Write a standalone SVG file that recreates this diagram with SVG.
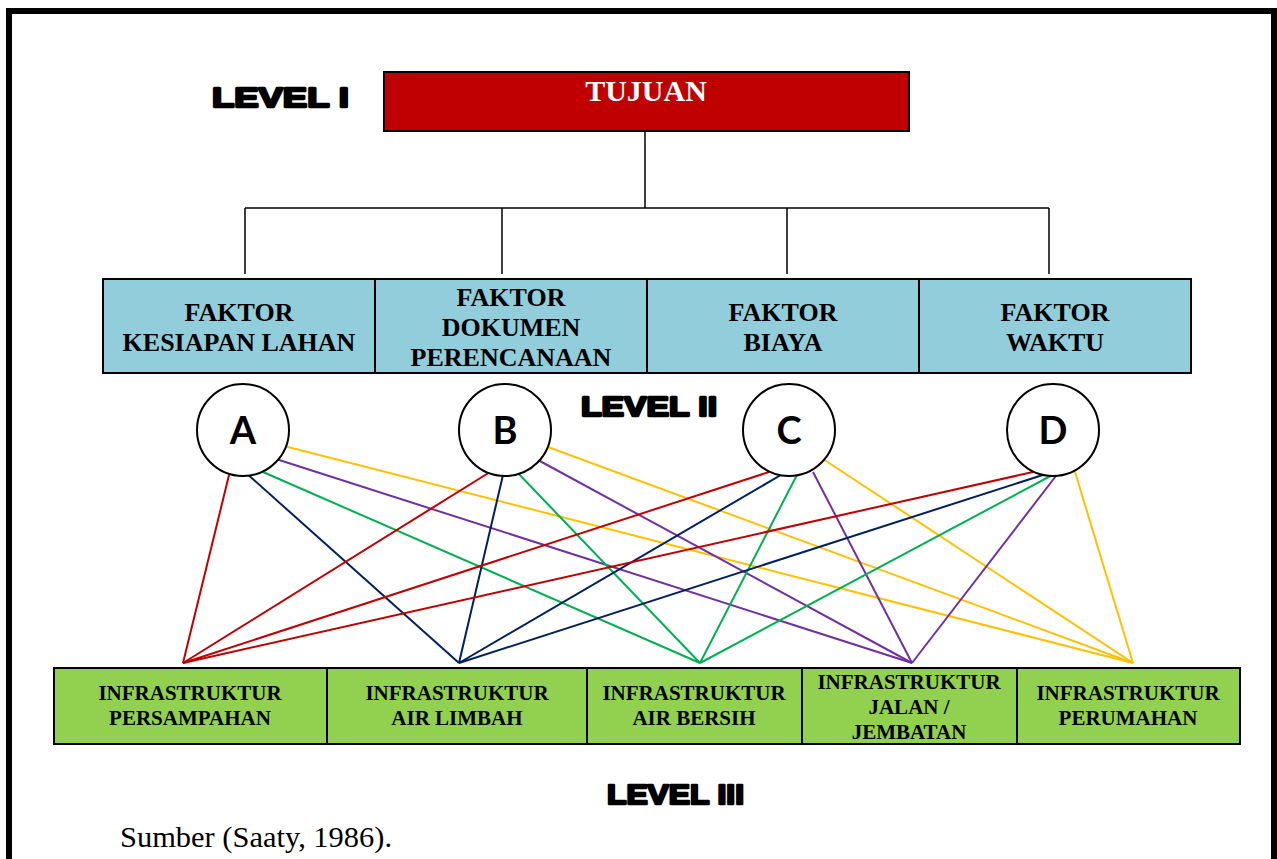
<svg xmlns="http://www.w3.org/2000/svg" width="1277" height="859" viewBox="0 0 1277 859">
<style>
.frame{fill:none;stroke:#000;stroke-width:6}
.box{stroke:#000;stroke-width:2}
.tree{fill:none;stroke:#000;stroke-width:1.5}
.circ{fill:#fff;stroke:#000;stroke-width:2}
.ft{font-family:"Liberation Serif","Times New Roman",serif;font-weight:bold;font-size:26px;fill:#000;text-anchor:middle}
.it{font-family:"Liberation Serif","Times New Roman",serif;font-weight:bold;font-size:21px;fill:#000;text-anchor:middle}
.lv{font-family:"Liberation Sans",Arial,sans-serif;font-weight:bold;font-size:28px;fill:#000;stroke:#000;stroke-width:2.4;stroke-linejoin:round}
.let{font-family:Lato,"Open Sans",sans-serif;font-weight:bold;font-size:38px;fill:#000;text-anchor:middle}
.c line{stroke-width:2}
.r{stroke:#C00000}.n{stroke:#002060}.g{stroke:#00B050}.p{stroke:#7030A0}.y{stroke:#FFC000}
</style>
<rect x="0" y="0" width="1277" height="859" fill="#fff"/>
<rect class="frame" x="9" y="11" width="1265" height="860"/>

<g id="level1-label"><text class="lv" x="212" y="107" textLength="137" lengthAdjust="spacingAndGlyphs">LEVEL I</text></g>
<g id="tujuan">
<rect class="box" x="384" y="72" width="525" height="59" fill="#C00000"/>
<text x="646" y="101" font-family="Liberation Serif, Times New Roman, serif" font-weight="bold" font-size="30" fill="#fff" text-anchor="middle">TUJUAN</text>
</g>

<g id="tree">
<line class="tree" x1="645" y1="131" x2="645" y2="208"/>
<line class="tree" x1="245" y1="208" x2="1049" y2="208"/>
<line class="tree" x1="245" y1="208" x2="245" y2="274"/>
<line class="tree" x1="502" y1="208" x2="502" y2="274"/>
<line class="tree" x1="787" y1="208" x2="787" y2="274"/>
<line class="tree" x1="1049" y1="208" x2="1049" y2="274"/>
</g>

<g id="faktor-lahan">
<rect class="box" x="103" y="279" width="272" height="94" fill="#92CDDC"/>
<text class="ft" x="239" y="321">FAKTOR</text>
<text class="ft" x="239" y="351">KESIAPAN LAHAN</text>
</g>
<g id="faktor-dokumen">
<rect class="box" x="375" y="279" width="272" height="94" fill="#92CDDC"/>
<text class="ft" x="511" y="306">FAKTOR</text>
<text class="ft" x="511" y="336">DOKUMEN</text>
<text class="ft" x="511" y="366">PERENCANAAN</text>
</g>
<g id="faktor-biaya">
<rect class="box" x="647" y="279" width="272" height="94" fill="#92CDDC"/>
<text class="ft" x="783" y="321">FAKTOR</text>
<text class="ft" x="783" y="351">BIAYA</text>
</g>
<g id="faktor-waktu">
<rect class="box" x="919" y="279" width="272" height="94" fill="#92CDDC"/>
<text class="ft" x="1055" y="321">FAKTOR</text>
<text class="ft" x="1055" y="351">WAKTU</text>
</g>

<g id="level2-label"><text class="lv" x="581" y="416" textLength="136" lengthAdjust="spacingAndGlyphs">LEVEL II</text></g>

<g id="connectors" class="c">
<line class="r" x1="230" y1="471" x2="183" y2="663"/>
<line class="n" x1="245" y1="472" x2="459" y2="663"/>
<line class="g" x1="263" y1="472" x2="700" y2="663"/>
<line class="p" x1="276" y1="459" x2="912" y2="663"/>
<line class="y" x1="284" y1="446" x2="1133" y2="663"/>

<line class="r" x1="490" y1="472" x2="183" y2="663"/>
<line class="n" x1="503" y1="475" x2="459" y2="663"/>
<line class="g" x1="516" y1="471" x2="700" y2="663"/>
<line class="p" x1="538" y1="460" x2="912" y2="663"/>
<line class="y" x1="548" y1="447" x2="1133" y2="663"/>

<line class="r" x1="769" y1="472" x2="183" y2="663"/>
<line class="n" x1="786" y1="472" x2="459" y2="663"/>
<line class="g" x1="799" y1="471" x2="700" y2="663"/>
<line class="p" x1="813" y1="472" x2="912" y2="663"/>
<line class="y" x1="823" y1="459" x2="1133" y2="663"/>

<line class="r" x1="1033" y1="472" x2="183" y2="663"/>
<line class="n" x1="1052" y1="472" x2="459" y2="663"/>
<line class="g" x1="1058" y1="472" x2="700" y2="663"/>
<line class="p" x1="1059" y1="472" x2="912" y2="663"/>
<line class="y" x1="1075" y1="472" x2="1133" y2="663"/>
</g>

<g id="node-a"><circle class="circ" cx="243" cy="430" r="46"/><text class="let" x="243" y="444">A</text></g>
<g id="node-b"><circle class="circ" cx="505" cy="430" r="46"/><text class="let" x="505" y="444">B</text></g>
<g id="node-c"><circle class="circ" cx="789" cy="430" r="46"/><text class="let" x="789" y="444">C</text></g>
<g id="node-d"><circle class="circ" cx="1053" cy="430" r="46"/><text class="let" x="1053" y="444">D</text></g>

<g id="infra-persampahan">
<rect class="box" x="54" y="668" width="273" height="76" fill="#92D050"/>
<text class="it" x="190" y="700">INFRASTRUKTUR</text>
<text class="it" x="190" y="725">PERSAMPAHAN</text>
</g>
<g id="infra-air-limbah">
<rect class="box" x="327" y="668" width="260" height="76" fill="#92D050"/>
<text class="it" x="457" y="700">INFRASTRUKTUR</text>
<text class="it" x="457" y="725">AIR LIMBAH</text>
</g>
<g id="infra-air-bersih">
<rect class="box" x="587" y="668" width="215" height="76" fill="#92D050"/>
<text class="it" x="694" y="700">INFRASTRUKTUR</text>
<text class="it" x="694" y="725">AIR BERSIH</text>
</g>
<g id="infra-jalan">
<rect class="box" x="802" y="668" width="215" height="76" fill="#92D050"/>
<text class="it" x="909" y="689">INFRASTRUKTUR</text>
<text class="it" x="909" y="714">JALAN /</text>
<text class="it" x="909" y="739">JEMBATAN</text>
</g>
<g id="infra-perumahan">
<rect class="box" x="1017" y="668" width="223" height="76" fill="#92D050"/>
<text class="it" x="1128" y="700">INFRASTRUKTUR</text>
<text class="it" x="1128" y="725">PERUMAHAN</text>
</g>

<g id="level3-label"><text class="lv" x="607" y="804" textLength="137" lengthAdjust="spacingAndGlyphs">LEVEL III</text></g>
<text x="120" y="847" font-family="Liberation Serif, Times New Roman, serif" font-size="29" fill="#000" textLength="272" lengthAdjust="spacingAndGlyphs">Sumber (Saaty, 1986).</text>
</svg>
